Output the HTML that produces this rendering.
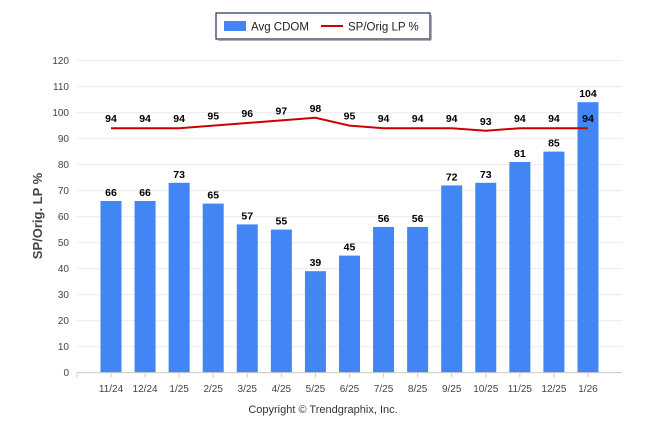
<!DOCTYPE html>
<html><head><style>body{margin:0;background:#fff}svg{display:block;font-family:"Liberation Sans",sans-serif}</style></head>
<body>
<svg width="646" height="434" xmlns="http://www.w3.org/2000/svg">
<rect x="216" y="13" width="214" height="26" fill="#fff" stroke="#1f2f5a" stroke-width="1.2"/>
<line x1="218" y1="40" x2="431" y2="40" stroke="#999" stroke-width="1.5"/>
<line x1="431" y1="15" x2="431" y2="40" stroke="#999" stroke-width="1.5"/>
<rect x="224" y="21" width="22" height="10" fill="#4285f4"/>
<text x="251" y="30.5" font-size="11.5" fill="#222">Avg CDOM</text>
<line x1="321" y1="26" x2="343" y2="26" stroke="#cc0000" stroke-width="2"/>
<text x="348" y="30.5" font-size="11.5" fill="#222">SP/Orig LP %</text>
<g stroke="#ececec" stroke-width="1" id="grid"></g>
<g font-size="10" fill="#444" text-anchor="end" id="yl"></g>
<text transform="translate(42,216) rotate(-90)" font-size="13" font-weight="bold" fill="#444" text-anchor="middle">SP/Orig. LP %</text>
<g id="bars"></g>
<text x="323" y="413" font-size="11" fill="#333" text-anchor="middle">Copyright © Trendgraphix, Inc.</text>
<script>
var ns="http://www.w3.org/2000/svg",s=document.querySelector('svg');
function el(t,a,p,txt){var e=document.createElementNS(ns,t);for(var k in a)e.setAttribute(k,a[k]);if(txt!=null)e.textContent=txt;(p||s).appendChild(e);return e;}
var y0=372.6,k=2.6,g=document.getElementById('grid'),yl=document.getElementById('yl');
for(var v=0;v<=120;v+=10){var y=y0-v*k;el('line',{x1:77,x2:622,y1:y,y2:y},g);el('text',{x:69,y:y+3.5},yl,v);}
var lab=["11/24","12/24","1/25","2/25","3/25","4/25","5/25","6/25","7/25","8/25","9/25","10/25","11/25","12/25","1/26"];
var b=[66,66,73,65,57,55,39,45,56,56,72,73,81,85,104];
var l=[94,94,94,95,96,97,98,95,94,94,94,93,94,94,94];
var bg=document.getElementById('bars'),pts=[];
for(var i=0;i<15;i++){var cx=111+i*34.07;
el('rect',{x:cx-10.5,y:y0-b[i]*k,width:21,height:b[i]*k,fill:'#4285f4'},bg);
el('line',{x1:cx,x2:cx,y1:y0,y2:y0+5,stroke:'#ccc'});
el('text',{x:cx,y:392,'font-size':10,fill:'#444','text-anchor':'middle'},null,lab[i]);
el('text',{x:cx,y:y0-b[i]*k-5,'font-size':10.5,'font-weight':'bold',fill:'#000','text-anchor':'middle'},null,b[i]);
pts.push(cx+','+(y0-l[i]*k));}
el('line',{x1:77,x2:622,y1:y0,y2:y0,stroke:'#ccc'});
el('line',{x1:77,x2:77,y1:y0,y2:y0+5,stroke:'#ccc'});
el('polyline',{points:pts.join(' '),fill:'none',stroke:'#cc0000','stroke-width':2});
for(var i=0;i<15;i++){var cx=111+i*34.07;el('text',{x:cx,y:y0-l[i]*k-6,'font-size':10.5,'font-weight':'bold',fill:'#000','text-anchor':'middle'},null,l[i]);}
</script>
</svg>
</body></html>
